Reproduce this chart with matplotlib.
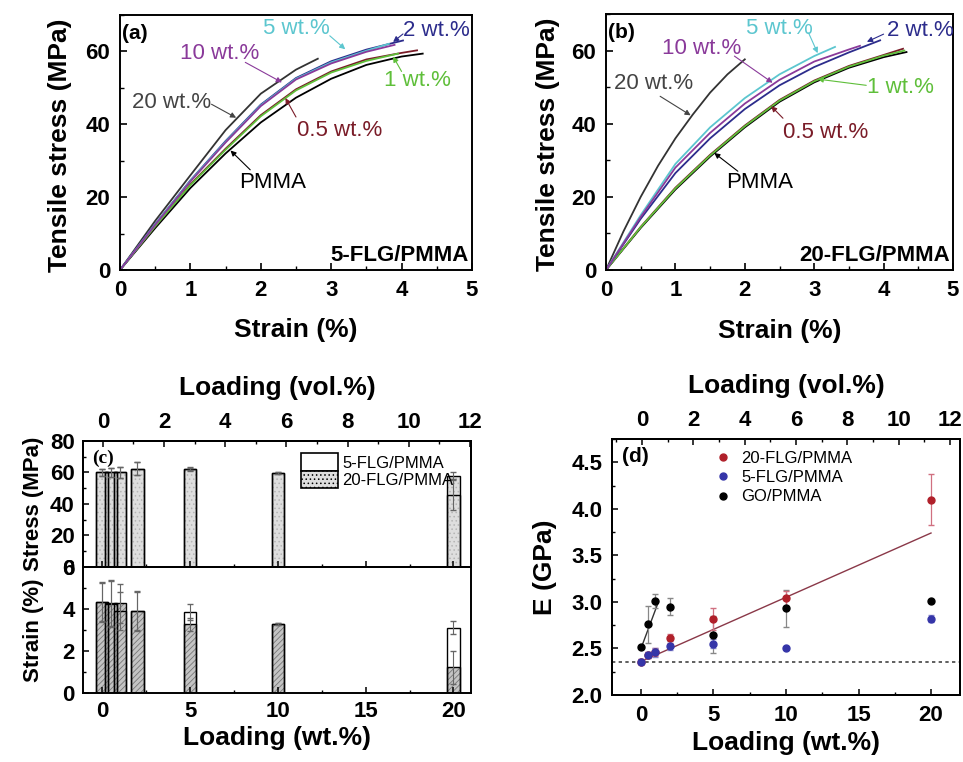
import numpy as np
import matplotlib
matplotlib.use('Agg')
import matplotlib.pyplot as plt
from matplotlib.patches import Patch
from matplotlib.ticker import MultipleLocator

plt.rcParams['font.family'] = ['Liberation Sans', 'DejaVu Sans']
plt.rcParams['font.weight'] = 'bold'
plt.rcParams['axes.linewidth'] = 1.4
plt.rcParams['xtick.direction'] = 'in'
plt.rcParams['ytick.direction'] = 'in'
plt.rcParams['hatch.linewidth'] = 0.6

# ---- (a) 5-FLG/PMMA stress-strain curves (strain %, stress MPa)
a_pmma_x = [0, 0.5, 1, 1.5, 2, 2.5, 3, 3.5, 4, 4.3]
a_pmma_y = [0, 11.5, 22.5, 32, 40.5, 47.3, 52.5, 56.3, 58.6, 59.4]
a_w05_x = [0, 0.5, 1, 1.5, 2, 2.5, 3, 3.5, 4, 4.22]
a_w05_y = [0, 12, 23.5, 33.3, 42.5, 49.6, 54.5, 57.8, 59.6, 60.3]
a_w1_x = [0, 0.5, 1, 1.5, 2, 2.5, 3, 3.5, 3.95]
a_w1_y = [0, 12, 23.3, 33, 42.2, 49.3, 54.2, 57.4, 59.4]
a_w2_x = [0, 0.5, 1, 1.5, 2, 2.5, 3, 3.5, 4.02]
a_w2_y = [0, 12.6, 24.6, 35.4, 45.4, 52.7, 57.3, 60.5, 63]
a_w5_x = [0, 0.5, 1, 1.5, 2, 2.5, 3, 3.5, 3.82]
a_w5_y = [0, 12.5, 24.5, 35.2, 45.2, 52.5, 57, 60.2, 62.1]
a_w10_x = [0, 0.5, 1, 1.5, 2, 2.5, 3, 3.5, 3.9]
a_w10_y = [0, 12.4, 24.3, 35, 45, 52.3, 56.7, 59.9, 61.8]
a_w20_x = [0, 0.5, 1, 1.5, 2, 2.5, 2.81]
a_w20_y = [0, 13.5, 26, 38.4, 48.4, 55, 58]

# ---- (b) 20-FLG/PMMA stress-strain curves
b_pmma_x = [0, 0.5, 1, 1.5, 2, 2.5, 3, 3.5, 4, 4.33]
b_pmma_y = [0, 11.5, 22, 31, 39, 46, 51.3, 55.3, 58.2, 59.6]
b_w05_x = [0, 0.5, 1, 1.5, 2, 2.5, 3, 3.5, 4, 4.28]
b_w05_y = [0, 11.8, 22.5, 31.5, 39.5, 46.5, 51.8, 55.8, 58.8, 60.5]
b_w1_x = [0, 0.5, 1, 1.5, 2, 2.5, 3, 3.5, 4, 4.3]
b_w1_y = [0, 11.7, 22.3, 31.3, 39.3, 46.3, 51.6, 55.6, 58.6, 60]
b_w2_x = [0, 0.5, 1, 1.5, 2, 2.5, 3, 3.5, 3.95]
b_w2_y = [0, 14, 26.5, 36, 44, 50.5, 55.5, 59.5, 62.8]
b_w5_x = [0, 0.5, 1, 1.5, 2, 2.5, 3, 3.3]
b_w5_y = [0, 15, 29, 39, 47, 53.5, 58.5, 61]
b_w10_x = [0, 0.5, 1, 1.5, 2, 2.5, 3, 3.5, 3.66]
b_w10_y = [0, 14.5, 28, 37.5, 45.5, 52, 57, 60.3, 61.3]
b_w20_x = [0, 0.25, 0.5, 0.75, 1, 1.25, 1.5, 1.75, 2.0]
b_w20_y = [0, 10.5, 20, 28.5, 36, 42.5, 48.5, 53.5, 57.6]

# ---- (c) bar data
loading_wt = [0, 0.5, 1, 2, 5, 10, 20]
stress_5flg = [60, 60, 60, 62.5, 62.5, 59.5, 46]
stress_5flg_err = [2, 3, 3.5, 4.3, 1, 0.5, 10]
stress_20flg = [60, 60, 60, 62.5, 62, 59.5, 58]
stress_20flg_err = [2, 3, 3.5, 4.3, 1, 0.5, 2.5]
strain_5flg = [4.35, 4.25, 3.9, 3.92, 3.84, 3.3, 3.11]
strain_5flg_err = [0.9, 1.1, 0.9, 0.95, 0.38, 0.05, 0.3]
strain_20flg = [4.35, 4.27, 4.27, 3.9, 3.27, 3.3, 1.22]
strain_20flg_err = [0.95, 1.1, 0.92, 0.9, 0.3, 0.05, 0.8]

# ---- (d) modulus data
E_20flg = [2.36, 2.43, 2.46, 2.61, 2.82, 3.04, 4.10]
E_20flg_err = [0.03, 0.03, 0.04, 0.05, 0.12, 0.08, 0.27]
E_5flg = [2.36, 2.43, 2.46, 2.53, 2.55, 2.51, 2.82]
E_5flg_err = [0.03, 0.03, 0.05, 0.05, 0.05, 0.0, 0.04]
E_go = [2.52, 2.76, 3.01, 2.95, 2.65, 2.93, 3.01]
E_go_err = [0.0, 0.2, 0.08, 0.09, 0.2, 0.2, 0.0]
fit_x = [0, 20]
fit_y = [2.36, 3.74]
go_fit_x = [0, 1.2]
go_fit_y = [2.5, 3.0]
E_pmma = 2.36

colors = {'PMMA': 'black', '0.5': '#7a1c28', '1': '#5fbf3a', '2': '#2c2c8c',
          '5': '#5cc6cf', '10': '#8a3a9a', '20': '#333333'}

fig = plt.figure(figsize=(9.63, 7.62), dpi=100)


def stress_strain(ax, curves, tag, name, notes, ylab_x):
    for key, x, y in curves:
        ax.plot(x, y, color=colors[key], lw=1.3)
    ax.set_xlim(0, 5)
    ax.set_ylim(0, 70)
    ax.xaxis.set_major_locator(MultipleLocator(1))
    ax.xaxis.set_minor_locator(MultipleLocator(0.5))
    ax.yaxis.set_major_locator(MultipleLocator(20))
    ax.yaxis.set_minor_locator(MultipleLocator(10))
    ax.tick_params(which='major', length=5, width=1.2, labelsize=16, pad=7)
    ax.tick_params(which='minor', length=3, width=1.0)
    ax.set_xlabel('Strain (%)', fontsize=19, fontweight='bold')
    ax.set_ylabel('Tensile stress (MPa)', fontsize=19, fontweight='bold')
    ax.xaxis.set_label_coords(0.5, -0.19)
    ax.yaxis.set_label_coords(ylab_x, 0.49)
    ax.text(0.03, 65, tag, fontsize=15, fontweight='bold', va='center')
    ax.text(4.95, 4, name, fontsize=16, fontweight='bold', ha='right', va='center')
    for text, col, pos, tail, tip in notes:
        ax.text(pos[0], pos[1], text, color=col, fontsize=16, fontweight='normal',
                ha='center', va='center')
        ax.annotate('', xy=tip, xytext=tail,
                    arrowprops=dict(arrowstyle='-|>', color=col, lw=0.8,
                                    mutation_scale=8, shrinkA=0, shrinkB=0))


ax_a = fig.add_axes([0.1246, 0.6457, 0.3655, 0.3346])
stress_strain(ax_a,
              [('PMMA', a_pmma_x, a_pmma_y), ('0.5', a_w05_x, a_w05_y), ('1', a_w1_x, a_w1_y),
               ('20', a_w20_x, a_w20_y), ('2', a_w2_x, a_w2_y), ('5', a_w5_x, a_w5_y),
               ('10', a_w10_x, a_w10_y)],
              '(a)', '5-FLG/PMMA',
              [('5 wt.%', colors['5'], (2.5, 66.3), (2.98, 64.3), (3.2, 60.6)),
               ('2 wt.%', colors['2'], (4.49, 65.7), (4.02, 64.8), (3.88, 62.6)),
               ('10 wt.%', colors['10'], (1.41, 59.4), (1.78, 57), (2.3, 51.5)),
               ('1 wt.%', colors['1'], (4.22, 52), (4.0, 54.5), (3.88, 58.6)),
               ('0.5 wt.%', colors['0.5'], (3.12, 38.4), (2.5, 42), (2.35, 47.2)),
               ('20 wt.%', '#444444', (0.73, 46), (1.3, 45.5), (1.65, 41.8)),
               ('PMMA', 'black', (2.17, 24), (1.85, 27.5), (1.57, 32.8))],
              -0.136)

ax_b = fig.add_axes([0.6293, 0.6457, 0.3603, 0.3359])
stress_strain(ax_b,
              [('PMMA', b_pmma_x, b_pmma_y), ('0.5', b_w05_x, b_w05_y), ('1', b_w1_x, b_w1_y),
               ('20', b_w20_x, b_w20_y), ('2', b_w2_x, b_w2_y), ('5', b_w5_x, b_w5_y),
               ('10', b_w10_x, b_w10_y)],
              '(b)', '20-FLG/PMMA',
              [('5 wt.%', colors['5'], (2.5, 66), (2.92, 64.8), (3.05, 59.3)),
               ('2 wt.%', colors['2'], (4.53, 65.6), (4.0, 64.5), (3.76, 62.4)),
               ('10 wt.%', colors['10'], (1.38, 60.6), (1.85, 58.5), (2.4, 51.2)),
               ('1 wt.%', colors['1'], (4.24, 50), (3.75, 50.5), (3.05, 52.2)),
               ('0.5 wt.%', colors['0.5'], (3.17, 37.7), (2.55, 41.5), (2.38, 44.8)),
               ('20 wt.%', '#444444', (0.69, 51), (0.78, 47.5), (1.22, 42.3)),
               ('PMMA', 'black', (2.22, 23.8), (1.9, 27), (1.56, 32))],
              -0.133)

# ---- (c) stress / strain bars
bar_w = 0.7
ax_c1 = fig.add_axes([0.0862, 0.2559, 0.4029, 0.1654])
ax_c2 = fig.add_axes([0.0862, 0.0906, 0.4029, 0.1653], sharex=ax_c1)

ax_c1.bar(loading_wt, stress_20flg, width=bar_w, color='#dedede', edgecolor='#b5b5b5',
          hatch='....', lw=0)
ax_c1.bar(loading_wt, stress_20flg, width=bar_w, facecolor='none', edgecolor='black', lw=1.0)
ax_c1.bar(loading_wt, stress_5flg, width=bar_w, facecolor='none', edgecolor='black', lw=1.0)
ax_c1.errorbar(loading_wt, stress_20flg, yerr=stress_20flg_err, fmt='none', ecolor='#666666',
               elinewidth=0.8, capsize=2)
ax_c1.errorbar(loading_wt, stress_5flg, yerr=stress_5flg_err, fmt='none', ecolor='#666666',
               elinewidth=0.8, capsize=2)

ax_c2.bar(loading_wt, strain_20flg, width=bar_w, color='#c4c4c4', edgecolor='#777777',
          hatch='//////', lw=0)
ax_c2.bar(loading_wt, strain_20flg, width=bar_w, facecolor='none', edgecolor='black', lw=1.0)
ax_c2.bar(loading_wt, strain_5flg, width=bar_w, facecolor='none', edgecolor='black', lw=1.0)
ax_c2.errorbar(loading_wt, strain_20flg, yerr=strain_20flg_err, fmt='none', ecolor='#666666',
               elinewidth=0.8, capsize=2)
ax_c2.errorbar(loading_wt, strain_5flg, yerr=strain_5flg_err, fmt='none', ecolor='#666666',
               elinewidth=0.8, capsize=2)

ax_c1.set_xlim(-1.1, 21)
ax_c1.set_ylim(0, 80)
ax_c2.set_ylim(0, 6)
ax_c1.yaxis.set_major_locator(MultipleLocator(20))
ax_c1.yaxis.set_minor_locator(MultipleLocator(10))
ax_c2.yaxis.set_major_locator(MultipleLocator(2))
ax_c2.yaxis.set_minor_locator(MultipleLocator(1))
ax_c2.xaxis.set_major_locator(MultipleLocator(5))
ax_c2.xaxis.set_minor_locator(MultipleLocator(2.5))
ax_c1.tick_params(axis='x', labelbottom=False)
for ax in (ax_c1, ax_c2):
    ax.tick_params(which='major', length=4, width=1.1, labelsize=16, pad=6)
    ax.tick_params(which='minor', length=2.5, width=1.0)
ax_c1.set_ylabel('Stress (MPa)', fontsize=16, fontweight='bold')
ax_c2.set_ylabel('Strain (%)', fontsize=16, fontweight='bold')
ax_c1.yaxis.set_label_coords(-0.10, 0.5)
ax_c2.yaxis.set_label_coords(-0.10, 0.5)
ax_c2.set_xlabel('Loading (wt.%)', fontsize=19, fontweight='bold')
ax_c2.xaxis.set_label_coords(0.5, -0.26)

ax_c1v = ax_c1.twiny()
ax_c1v.set_xlim(-0.65, 12.03)
ax_c1v.xaxis.set_major_locator(MultipleLocator(2))
ax_c1v.xaxis.set_minor_locator(MultipleLocator(1))
ax_c1v.tick_params(which='major', length=4, width=1.1, labelsize=16, pad=6)
ax_c1v.tick_params(which='minor', length=2.5, width=1.0)
ax_c1v.set_xlabel('Loading (vol.%)', fontsize=19, fontweight='bold', labelpad=12)

ax_c1.text(0.023, 0.86, '(c)', transform=ax_c1.transAxes, fontsize=14,
           family='Liberation Serif', fontweight='bold', va='center')
leg_c = ax_c1.legend(handles=[Patch(facecolor='white', edgecolor='black', lw=1.2),
                              Patch(facecolor='#dedede', edgecolor='black', lw=1.2, hatch='....')],
                     labels=['5-FLG/PMMA', '20-FLG/PMMA'], loc='upper left',
                     bbox_to_anchor=(0.54, 0.97), frameon=False, handlelength=2.2,
                     handleheight=1.25, labelspacing=0.0, handletextpad=0.3, borderpad=0,
                     prop={'size': 12, 'weight': 'normal'})

# ---- (d) Young's modulus
ax_d = fig.add_axes([0.6355, 0.0879, 0.3614, 0.336])
ax_d.axhline(E_pmma, color='#444444', lw=1.2, ls=(0, (2, 2)))
ax_d.plot(fit_x, fit_y, color='#8a3848', lw=1.0)
ax_d.plot(go_fit_x, go_fit_y, color='#333333', lw=1.0)
ax_d.errorbar(loading_wt, E_go, yerr=E_go_err, fmt='o', color='black', ms=5,
              ecolor='#888888', elinewidth=0.9, capsize=2.5, label='GO/PMMA')
ax_d.errorbar(loading_wt, E_20flg, yerr=E_20flg_err, fmt='o', color='#b0202a', ms=5,
              ecolor='#d07080', elinewidth=0.9, capsize=2.5, label='20-FLG/PMMA')
ax_d.errorbar(loading_wt, E_5flg, yerr=E_5flg_err, fmt='o', color='#3535a8', ms=5,
              ecolor='#8888cc', elinewidth=0.9, capsize=2.5, label='5-FLG/PMMA')
ax_d.set_xlim(-2, 22)
ax_d.set_ylim(2.0, 4.75)
ax_d.xaxis.set_major_locator(MultipleLocator(5))
ax_d.xaxis.set_minor_locator(MultipleLocator(2.5))
ax_d.yaxis.set_major_locator(MultipleLocator(0.5))
ax_d.yaxis.set_minor_locator(MultipleLocator(0.25))
ax_d.yaxis.set_major_formatter(matplotlib.ticker.FormatStrFormatter('%.1f'))
ax_d.tick_params(which='major', length=4, width=1.1, labelsize=16, pad=7)
ax_d.tick_params(which='minor', length=2.5, width=1.0)
ax_d.set_xlabel('Loading (wt.%)', fontsize=19, fontweight='bold')
ax_d.set_ylabel('E (GPa)', fontsize=19, fontweight='bold')
ax_d.xaxis.set_label_coords(0.5, -0.14)
ax_d.yaxis.set_label_coords(-0.158, 0.5)
ax_d.text(0.03, 0.93, '(d)', transform=ax_d.transAxes, fontsize=15, fontweight='bold',
          va='center')
h, l = ax_d.get_legend_handles_labels()
order = [1, 2, 0]
ax_d.legend([h[i][0] for i in order], [l[i] for i in order], loc='upper left',
            bbox_to_anchor=(0.27, 0.985), frameon=False, handlelength=1.0,
            handletextpad=0.6, labelspacing=0.25, borderpad=0,
            prop={'size': 12, 'weight': 'normal'})

ax_dv = ax_d.twiny()
ax_dv.set_xlim(-1.17, 12.39)
ax_dv.xaxis.set_major_locator(MultipleLocator(2))
ax_dv.xaxis.set_minor_locator(MultipleLocator(1))
ax_dv.tick_params(which='major', length=4, width=1.1, labelsize=16, pad=6)
ax_dv.tick_params(which='minor', length=2.5, width=1.0)
ax_dv.set_xlabel('Loading (vol.%)', fontsize=19, fontweight='bold', labelpad=12)

fig.savefig('out.png', dpi=100)
